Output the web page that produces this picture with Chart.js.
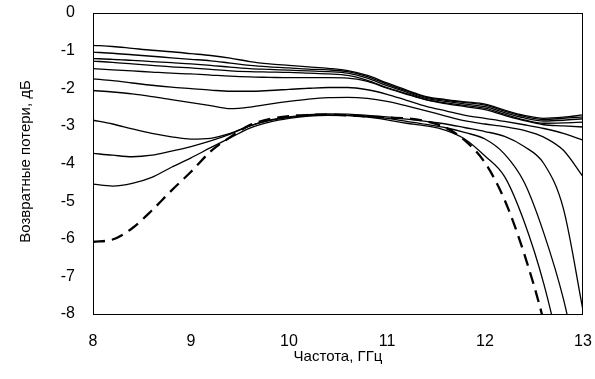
<!DOCTYPE html>
<html>
<head>
<meta charset="utf-8">
<script src="https://cdn.jsdelivr.net/npm/chart.js@4.4.1/dist/chart.umd.min.js"></script>
<style>
    html, body { margin: 0; padding: 0; background: #fff; }
    #wrap { width: 595px; height: 379px; }
</style>
</head>
<body>
<div id="wrap"><canvas id="lossChart" width="595" height="379"></canvas></div>
<script>
// frequency grid, GHz
const freq = [8.0, 8.2, 8.4, 8.6, 8.8, 9.0, 9.2, 9.4, 9.6, 9.8, 10.0, 10.2, 10.4, 10.6, 10.8,
              11.0, 11.2, 11.4, 11.6, 11.8, 12.0, 12.2, 12.4, 12.6, 12.8, 13.0];

// return loss, dB (top curve first)
const loss1 = [-0.86, -0.89, -0.94, -0.99, -1.03, -1.08, -1.13, -1.20, -1.29, -1.35, -1.39, -1.43, -1.47, -1.53, -1.66,
               -1.86, -2.05, -2.22, -2.30, -2.36, -2.42, -2.58, -2.72, -2.80, -2.77, -2.71];
const loss2 = [-1.04, -1.07, -1.11, -1.15, -1.19, -1.23, -1.27, -1.33, -1.39, -1.43, -1.46, -1.49, -1.51, -1.56, -1.69,
               -1.89, -2.07, -2.24, -2.32, -2.38, -2.45, -2.61, -2.75, -2.83, -2.80, -2.76];
const loss3 = [-1.21, -1.23, -1.26, -1.29, -1.32, -1.35, -1.39, -1.44, -1.48, -1.50, -1.52, -1.54, -1.56, -1.60, -1.73,
               -1.93, -2.10, -2.27, -2.35, -2.42, -2.49, -2.65, -2.79, -2.87, -2.85, -2.81];
const loss4 = [-1.28, -1.31, -1.35, -1.39, -1.43, -1.46, -1.50, -1.54, -1.56, -1.57, -1.58, -1.60, -1.62, -1.66, -1.79,
               -1.98, -2.14, -2.30, -2.39, -2.46, -2.53, -2.69, -2.84, -2.93, -2.92, -2.90];
const loss5 = [-1.48, -1.51, -1.54, -1.57, -1.60, -1.62, -1.65, -1.68, -1.70, -1.71, -1.72, -1.72, -1.72, -1.73, -1.82,
               -2.00, -2.16, -2.31, -2.41, -2.49, -2.57, -2.72, -2.86, -2.97, -3.00, -3.03];
const loss6 = [-1.75, -1.80, -1.86, -1.92, -1.97, -2.01, -2.05, -2.08, -2.08, -2.06, -2.03, -2.00, -1.98, -1.98, -2.04,
               -2.16, -2.32, -2.48, -2.60, -2.72, -2.80, -2.88, -2.97, -3.07, -3.20, -3.38];
const loss7 = [-2.06, -2.10, -2.15, -2.22, -2.30, -2.38, -2.46, -2.54, -2.50, -2.42, -2.35, -2.29, -2.25, -2.24, -2.27,
               -2.35, -2.47, -2.60, -2.74, -2.87, -2.95, -3.02, -3.12, -3.30, -3.65, -4.35];
const loss8 = [-2.85, -2.95, -3.08, -3.20, -3.29, -3.35, -3.33, -3.20, -3.00, -2.85, -2.76, -2.70, -2.68, -2.69, -2.72,
               -2.76, -2.82, -2.88, -2.95, -3.05, -3.15, -3.28, -3.55, -4.00, -5.20, -7.90];
const loss9 = [-3.73, -3.78, -3.82, -3.78, -3.67, -3.55, -3.40, -3.22, -3.00, -2.86, -2.78, -2.73, -2.71, -2.72, -2.75,
               -2.80, -2.88, -2.96, -3.05, -3.18, -3.35, -3.75, -4.50, -5.85, -7.60, -10.0];
const loss10 = [-4.55, -4.60, -4.53, -4.37, -4.10, -3.85, -3.58, -3.32, -3.06, -2.90, -2.80, -2.74, -2.72, -2.73, -2.77,
                -2.84, -2.93, -3.00, -3.12, -3.36, -3.80, -4.35, -5.55, -7.20, -9.40, -12.0];
const lossDashed = [-6.08, -6.02, -5.72, -5.25, -4.72, -4.22, -3.68, -3.30, -2.98, -2.82, -2.74, -2.71, -2.70, -2.72, -2.75,
                    -2.78, -2.80, -2.88, -3.05, -3.40, -3.98, -4.97, -6.40, -8.20, -10.5, -13.0];

const solidSeries = [loss1, loss2, loss3, loss4, loss5, loss6, loss7, loss8, loss9, loss10];
const yTicks = [0, -1, -2, -3, -4, -5, -6, -7, -8];

const FONT = "'Liberation Sans', Arial, sans-serif";

function toPoints(values) {
    return values.map((v, i) => ({ x: freq[i], y: v }));
}

const datasets = solidSeries.map(values => ({
    data: toPoints(values),
    borderColor: '#000',
    borderWidth: 1.3,
    pointRadius: 0,
    cubicInterpolationMode: 'monotone'
}));
datasets.push({
    data: toPoints(lossDashed),
    borderColor: '#000',
    borderWidth: 2.3,
    borderDash: [12, 7],
    pointRadius: 0,
    cubicInterpolationMode: 'monotone'
});

// box around the plot area
const frame = {
    id: 'frame',
    afterDatasetsDraw(chart) {
        const a = chart.chartArea;
        const ctx = chart.ctx;
        ctx.save();
        ctx.strokeStyle = '#000';
        ctx.lineWidth = 1;
        ctx.strokeRect(Math.round(a.left) + 0.5, Math.round(a.top) + 0.5,
                       Math.round(a.right - a.left) - 1, Math.round(a.bottom - a.top));
        ctx.restore();
    }
};

new Chart(document.getElementById('lossChart').getContext('2d'), {
    type: 'line',
    data: { datasets: datasets },
    options: {
        responsive: false,
        animation: false,
        events: [],
        layout: { padding: { top: 13, right: 12, bottom: 13, left: 0 } },
        plugins: { legend: { display: false }, tooltip: { enabled: false } },
        scales: {
            x: {
                type: 'linear',
                min: 8,
                max: 13,
                afterFit(scale) {
                    scale.height = 52;
                    scale.paddingLeft = 0;
                    scale.paddingRight = 0;
                },
                grid: { display: false, drawTicks: false },
                border: { display: false },
                ticks: { stepSize: 1, padding: 18, color: '#000', font: { family: FONT, size: 16 } },
                title: {
                    display: true,
                    text: 'Частота, ГГц',
                    color: '#000',
                    padding: { top: 0, bottom: 0 },
                    font: { family: FONT, size: 15 }
                }
            },
            y: {
                min: -8,
                max: 0,
                afterFit(scale) {
                    scale.width = 93;
                    scale.paddingTop = 0;
                    scale.paddingBottom = 0;
                },
                afterBuildTicks(scale) { scale.ticks = yTicks.map(v => ({ value: v })); },
                grid: { display: false, drawTicks: false },
                border: { display: false },
                ticks: { padding: 18, color: '#000', font: { family: FONT, size: 16 } },
                title: {
                    display: true,
                    text: ' Возвратные потери, дБ',
                    color: '#000',
                    padding: { top: 17, bottom: 0 },
                    font: { family: FONT, size: 15 }
                }
            }
        }
    },
    plugins: [frame]
});
</script>
</body>
</html>
